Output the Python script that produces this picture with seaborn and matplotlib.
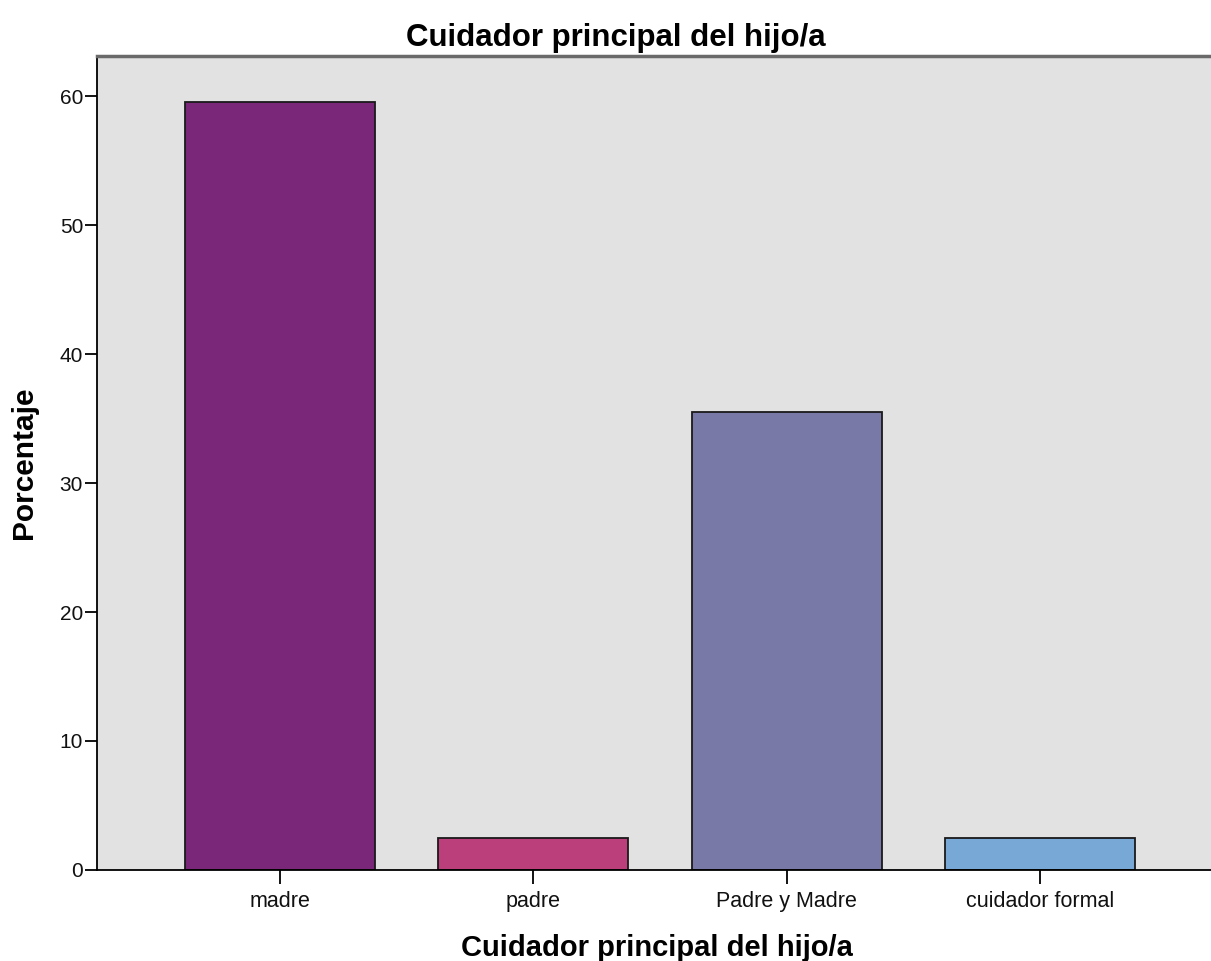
import seaborn as sns
import matplotlib.pyplot as plt
import pandas as pd

categorias = ["madre", "padre", "Padre y Madre", "cuidador formal"]
porcentajes = [59.5, 2.5, 35.5, 2.5]
colores = ["#7B2779", "#BA3F7B", "#7979A7", "#78A8D6"]

df = pd.DataFrame({"cuidador": categorias, "porcentaje": porcentajes})

sns.set_theme(style="white")
plt.rcParams["font.family"] = ["Liberation Sans", "DejaVu Sans"]
plt.rcParams["text.color"] = "black"
plt.rcParams["axes.labelcolor"] = "black"

fig = plt.figure(figsize=(12.11, 9.61), dpi=100)
ax = fig.add_axes([0.0801, 0.0947, 0.925, 0.847])
ax.set_facecolor("#E2E2E2")

sns.barplot(data=df, x="cuidador", y="porcentaje", hue="cuidador",
            palette=colores, width=0.75, edgecolor="#1a1a1a", linewidth=1.3,
            saturation=1, legend=False, ax=ax)

ax.set_xlim(-0.723, 3.7)
ax.set_ylim(0, 63.1)
ax.set_yticks([0, 10, 20, 30, 40, 50, 60])

for s in ["left", "bottom"]:
    ax.spines[s].set_color("black")
    ax.spines[s].set_linewidth(1.3)
ax.spines["top"].set_color("#6a6a6a")
ax.spines["top"].set_linewidth(2.5)
ax.spines["right"].set_visible(False)

ax.tick_params(axis="y", direction="out", length=9, width=1.3, color="black",
               labelsize=15, labelcolor="#111111", left=True, pad=1)
ax.tick_params(axis="x", direction="out", length=10, width=1.3, color="black",
               labelsize=15.5, labelcolor="#111111", bottom=True, pad=5)

ax.set_title("Cuidador principal del hijo/a", fontsize=22.5, fontweight="bold",
             x=0.463, pad=7)
ax.set_xlabel("Cuidador principal del hijo/a", fontsize=21, fontweight="bold",
              labelpad=16)
ax.set_ylabel("Porcentaje", fontsize=21.5, fontweight="bold", labelpad=16)

fig.savefig("out.png", dpi=100)
